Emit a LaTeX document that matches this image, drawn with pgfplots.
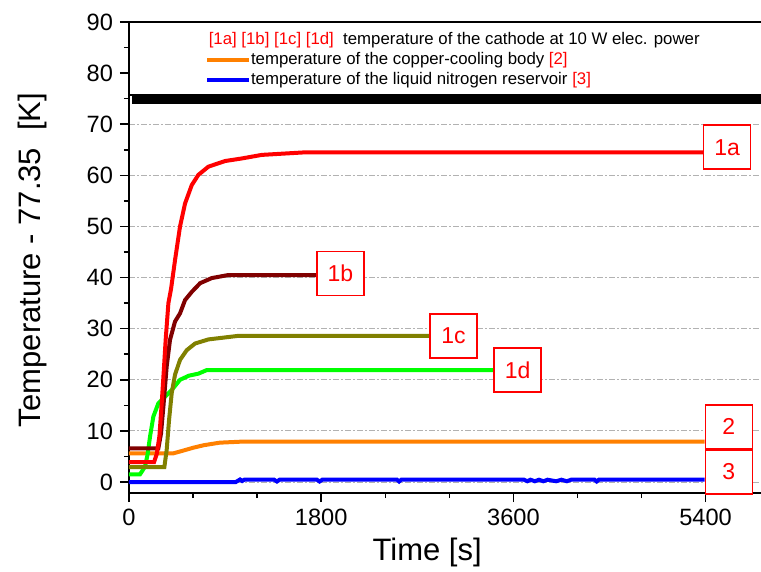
\documentclass[border=0pt]{standalone}
\usepackage{fontspec}
\setmainfont{Liberation Sans}
\usepackage{pgfplots}
\pgfplotsset{compat=1.18}
\definecolor{c1a}{RGB}{255,0,0}
\definecolor{c1b}{RGB}{128,0,0}
\definecolor{c1c}{RGB}{128,128,0}
\definecolor{c1d}{RGB}{0,255,0}
\definecolor{c2}{RGB}{255,128,0}
\definecolor{c3}{RGB}{0,0,255}
\tikzset{lbl/.style={draw=red, fill=white, text=red, line width=0.75pt, minimum width=23.5pt,
    minimum height=22pt, inner sep=0pt, anchor=west, font=\fontsize{11.5}{13}\selectfont}}
\begin{document}
\begin{tikzpicture}
\begin{axis}[name=ax, scale only axis, width=316.5pt, height=235.5pt,
  xmin=0, xmax=5928, ymin=-2.15, ymax=90,
  xtick={0,1800,3600,5400}, minor x tick num=2,
  ytick={0,10,...,90}, minor y tick num=1,
  xtick pos=left, ytick pos=both,
  tick align=outside, major tick length=4.5pt, minor tick length=2.5pt,
  axis line style={line width=0.75pt},
  every tick/.style={black, line width=0.75pt},
  ymajorgrids,
  major grid style={gray!60, line width=0.45pt, dash pattern=on 3pt off 1pt on 1pt off 1pt},
  /pgf/number format/assume math mode=true,
  /pgf/number format/1000 sep={},
  tick label style={font=\fontsize{11.8}{13}\selectfont},
  xlabel={Time [s]}, ylabel={Temperature - 77.35\ \ [K]},
  label style={font=\fontsize{15.5}{17}\selectfont},
  xlabel style={at={(axis description cs:0.471,-0.1253)}, anchor=center},
  ylabel style={at={(axis description cs:-0.1532,0.495)}, anchor=center},
  clip=false,
  legend cell align=left,
  legend style={draw=none, fill=none, at={(axis description cs:0.12,0.9815)}, anchor=north west,
    inner sep=0pt, row sep=1.65pt,
    nodes={inner sep=0pt, text height=6.5pt, text depth=2pt, font=\fontsize{8.4}{9}\selectfont}},
  legend image code/.code={\draw[#1, line width=2pt] (0pt,0pt) -- (20.85pt,0pt);},
]
\addlegendimage{empty legend}
\addlegendentry{\hspace*{-21.15pt}\textcolor{red}{[1a] [1b] [1c] [1d]}\ \ temperature of the cathode at 10 W elec. power}

\addplot[c2, line width=2pt] coordinates {
(0,5.6) (413,5.6) (500,6.1) (600,6.7) (700,7.2) (850,7.7) (1056,7.9) (5390,7.9)};
\addlegendentry{temperature of the copper-cooling body \textcolor{red}{[2]}}

\addplot[c3, line width=2pt] coordinates {
(0,0) (1000,0) (1040,0.5) (1060,0.2) (1080,0.45) (1360,0.45) (1385,0.1) (1410,0.45)
(1760,0.45) (1785,0.1) (1810,0.45) (2510,0.45) (2530,0.1) (2550,0.45)
(3700,0.45) (3730,0.15) (3760,0.45) (3800,0.15) (3840,0.45) (3880,0.15) (3920,0.45)
(4000,0.15) (4050,0.45) (4100,0.15) (4140,0.45) (4360,0.45) (4380,0.1) (4400,0.45) (5390,0.45)};
\addlegendentry{temperature of the liquid nitrogen reservoir \textcolor{red}{[3]}}

\addplot[c1d, line width=2pt, forget plot] coordinates {
(0,1.5) (103,1.5) (150,3.0) (175,5.5) (197,8.9) (228,12.8) (275,15.4) (338,16.7)
(400,18.0) (478,20.0) (560,20.8) (650,21.2) (728,21.9) (3412,21.9)};

\addplot[c1c, line width=2pt, forget plot] coordinates {
(0,2.9) (331,2.9) (353,6.3) (375,12.1) (400,17.4) (431,21.0) (478,23.9) (541,25.8)
(619,27.1) (744,27.9) (1025,28.6) (2812,28.6)};

\addplot[c1b, line width=2pt, forget plot] coordinates {
(0,6.6) (275,6.6) (300,9.5) (322,14.7) (353,22.6) (384,27.8) (431,31.4) (478,33.0)
(525,35.6) (588,37.2) (666,38.9) (775,39.9) (931,40.5) (1753,40.5)};

\addplot[c1a, line width=2pt, forget plot] coordinates {
(0,3.9) (235,3.9) (260,5.5) (285,9.0) (305,15.0) (325,21.5) (344,28.0) (369,35.0) (394,37.8)
(431,43.4) (478,50.0) (525,54.5) (588,58.1) (650,60.1) (744,61.7) (900,62.8)
(1056,63.3) (1244,64.0) (1650,64.5) (5375,64.5)};

\fill[black] (axis description cs:0.0052,0.8253) rectangle (axis description cs:1.02,0.95);
\draw[black, line width=0.6pt, fill=white] (axis description cs:0,0.845) rectangle (axis description cs:1.02,1);

\node[lbl] at (axis cs:5375,65.5) {1a};
\node[lbl] at (axis cs:1753,40.8) {1b};
\node[lbl] at (axis cs:2812,28.6) {1c};
\node[lbl] at (axis cs:3412,21.9) {1d};
\node[lbl] at (axis cs:5390,10.8) {2};
\node[lbl] at (axis cs:5390,2.0) {3};
\end{axis}
\pgfresetboundingbox
\useasboundingbox ([xshift=-64.5pt,yshift=-39pt]ax.south west) rectangle ([xshift=-0.5pt,yshift=11pt]ax.north east);
\end{tikzpicture}
\end{document}
